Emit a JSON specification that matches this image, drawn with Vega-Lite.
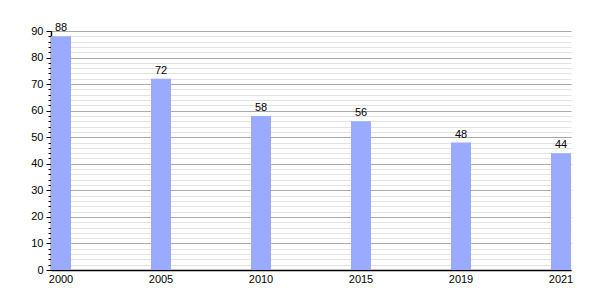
{
  "$schema": "https://vega.github.io/schema/vega-lite/v6.json",
  "autosize": {"type": "none"},
  "padding": {"left": 51, "top": 31, "right": 29, "bottom": 30},
  "width": 520,
  "height": 239,
  "background": "white",
  "config": {
    "view": {"stroke": null},
    "font": "Liberation Sans",
    "axis": {"labelFont": "Liberation Sans", "labelFontSize": 11, "labelColor": "#000", "tickColor": "#000", "domainColor": "#000"}
  },
  "data": {
    "values": [
      {"year": "2000", "value": 88},
      {"year": "2005", "value": 72},
      {"year": "2010", "value": 58},
      {"year": "2015", "value": 56},
      {"year": "2019", "value": 48},
      {"year": "2021", "value": 44}
    ]
  },
  "encoding": {
    "x": {
      "field": "year", "type": "ordinal", "sort": null,
      "scale": {"paddingInner": 0.8, "paddingOuter": 0},
      "axis": {"title": null, "labelAngle": 0, "ticks": false, "labelPadding": 3, "domainColor": "#000", "domainWidth": 1.5, "grid": false}
    },
    "y": {"field": "value", "type": "quantitative", "scale": {"domain": [0, 90], "nice": false}}
  },
  "layer": [
    {
      "mark": {"type": "bar", "color": "#99aaff"},
      "encoding": {
        "y": {
          "field": "value", "type": "quantitative", "scale": {"domain": [0, 90], "nice": false},
          "axis": {
            "title": null, "orient": "left",
            "values": [0,2,4,6,8,10,12,14,16,18,20,22,24,26,28,30,32,34,36,38,40,42,44,46,48,50,52,54,56,58,60,62,64,66,68,70,72,74,76,78,80,82,84,86,88,90],
            "labels": false, "domain": false, "tickSize": 3, "grid": true, "gridColor": "#e2e2e2", "gridWidth": 1
          }
        }
      }
    },
    {
      "mark": {"type": "text", "baseline": "bottom", "dy": -3, "fontSize": 11, "color": "#000", "font": "Liberation Sans"},
      "encoding": {
        "text": {"field": "value", "type": "quantitative"},
        "y": {
          "field": "value", "type": "quantitative", "scale": {"domain": [0, 90], "nice": false},
          "axis": {
            "title": null, "orient": "left",
            "values": [0,10,20,30,40,50,60,70,80,90],
            "tickSize": 5, "labelPadding": 3, "domainColor": "#000", "domainWidth": 1.5, "grid": true, "gridColor": "#aaaaaa", "gridWidth": 1
          }
        }
      }
    }
  ],
  "resolve": {"axis": {"y": "independent"}}
}
